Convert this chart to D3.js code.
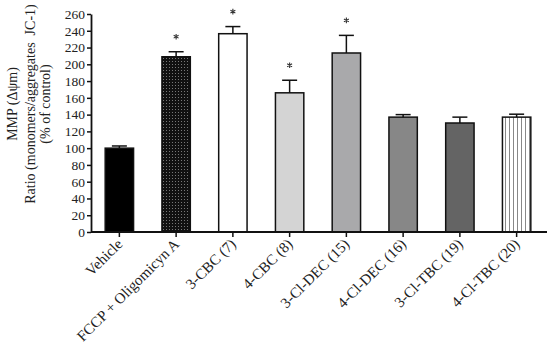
<!DOCTYPE html>
<html>
<head>
<meta charset="utf-8">
<script src="https://cdn.jsdelivr.net/npm/d3@7"></script>
<style>
  body { margin: 0; background: #fff; }
  svg { display: block; }
</style>
</head>
<body>
<div id="chart"></div>
<script>
// data
const groups = ["Vehicle", "FCCP + Oligomicyn A", "3-CBC (7)", "4-CBC (8)", "3-Cl-DEC (15)", "4-Cl-DEC (16)", "3-Cl-TBC (19)", "4-Cl-TBC (20)"];
const means = [100, 209, 236.5, 166, 213.5, 137, 130, 137];
const errors = [2.6, 6, 8.5, 15, 21, 3, 7, 3.5];
const significant = [false, true, true, true, true, false, false, false];
const yTicks = [0, 20, 40, 60, 80, 100, 120, 140, 160, 180, 200, 220, 240, 260];
const fills = ["#000", "url(#dots)", "#fff", "#d4d4d4", "#a9a9ab", "#878787", "#646464", "url(#stripes)"];

const width = 550, height = 346;
const margin = { top: 14, right: 3, bottom: 114, left: 91 };
const font = "'Liberation Serif', 'Times New Roman', serif";

const svg = d3.select("#chart").append("svg")
    .attr("width", width)
    .attr("height", height)
    .style("font-family", font);

const defs = svg.append("defs");
const dots = defs.append("pattern")
    .attr("id", "dots")
    .attr("patternUnits", "userSpaceOnUse")
    .attr("width", 3).attr("height", 3);
dots.append("rect").attr("width", 3).attr("height", 3).attr("fill", "#111");
dots.append("rect").attr("x", 1).attr("y", 1).attr("width", 1).attr("height", 1).attr("fill", "#777");

const stripes = defs.append("pattern")
    .attr("id", "stripes")
    .attr("patternUnits", "userSpaceOnUse")
    .attr("width", 4).attr("height", 4);
stripes.append("rect").attr("width", 4).attr("height", 4).attr("fill", "#fff");
stripes.append("rect").attr("x", 1).attr("width", 1).attr("height", 4).attr("fill", "#888");

const x = d3.scaleBand()
    .domain(groups)
    .range([margin.left, 545])
    .paddingInner(0.5)
    .paddingOuter(0.25);

const y = d3.scaleLinear()
    .domain([0, 260])
    .range([height - margin.bottom, margin.top]);

const cx = d => x(d) + x.bandwidth() / 2;
const errTop = i => y(means[i] + errors[i]);

// bars
svg.append("g")
    .selectAll("rect")
    .data(groups)
    .join("rect")
    .attr("x", d => x(d))
    .attr("y", (d, i) => y(means[i]))
    .attr("width", x.bandwidth())
    .attr("height", (d, i) => y(0) - y(means[i]))
    .attr("fill", (d, i) => fills[i])
    .attr("stroke", "#111")
    .attr("stroke-width", 1.5);

// error bars (upper only)
const eb = svg.append("g")
    .attr("stroke", "#111")
    .attr("stroke-width", 1.5);
eb.selectAll("line.v")
    .data(groups)
    .join("line")
    .attr("class", "v")
    .attr("x1", cx)
    .attr("x2", cx)
    .attr("y1", (d, i) => y(means[i]))
    .attr("y2", (d, i) => errTop(i));
eb.selectAll("line.cap")
    .data(groups)
    .join("line")
    .attr("class", "cap")
    .attr("x1", d => cx(d) - 7.5)
    .attr("x2", d => cx(d) + 7.5)
    .attr("y1", (d, i) => errTop(i))
    .attr("y2", (d, i) => errTop(i));

// significance stars
svg.append("g")
    .selectAll("path")
    .data(groups.map((d, i) => i).filter(i => significant[i]))
    .join("path")
    .attr("d", d3.symbol(d3.symbolAsterisk, 22))
    .attr("transform", i => `translate(${cx(groups[i])},${errTop(i) - 15})`)
    .attr("fill", "none")
    .attr("stroke", "#333")
    .attr("stroke-width", 1.1);

// axes
const yAxis = svg.append("g")
    .attr("transform", `translate(${margin.left},0)`)
    .call(d3.axisLeft(y).tickValues(yTicks).tickSize(4).tickPadding(2).tickSizeOuter(0));

const xAxis = svg.append("g")
    .attr("transform", `translate(0,${y(0)})`)
    .call(d3.axisBottom(x).tickSize(5).tickSizeOuter(0));

[yAxis, xAxis].forEach(g => {
    g.select(".domain").attr("stroke", "#111").attr("stroke-width", 1.8);
    g.selectAll(".tick line").attr("stroke", "#111").attr("stroke-width", 1.5);
    g.selectAll("text").attr("fill", "#222").style("font-family", font).style("font-size", "13.5px");
});
xAxis.select(".domain").attr("d", `M${margin.left},0H547`);

xAxis.selectAll(".tick text")
    .style("font-size", "15px")
    .attr("text-anchor", "end")
    .attr("dy", null)
    .attr("transform", "translate(4,13) rotate(-45)")
    .attr("x", 0)
    .attr("y", 0);

// y title
const title = svg.append("text")
    .attr("transform", "translate(0,104) rotate(-90)")
    .attr("text-anchor", "middle")
    .attr("fill", "#222")
    .style("font-size", "14px")
    .style("white-space", "pre");
title.append("tspan").attr("x", 0).attr("y", 17).text("MMP (Δψm)");
title.append("tspan").attr("x", 0).attr("y", 35).text("Ratio (monomers/aggregates  JC-1)");
title.append("tspan").attr("x", 0).attr("y", 50).text("(% of control)");
</script>
</body>
</html>
